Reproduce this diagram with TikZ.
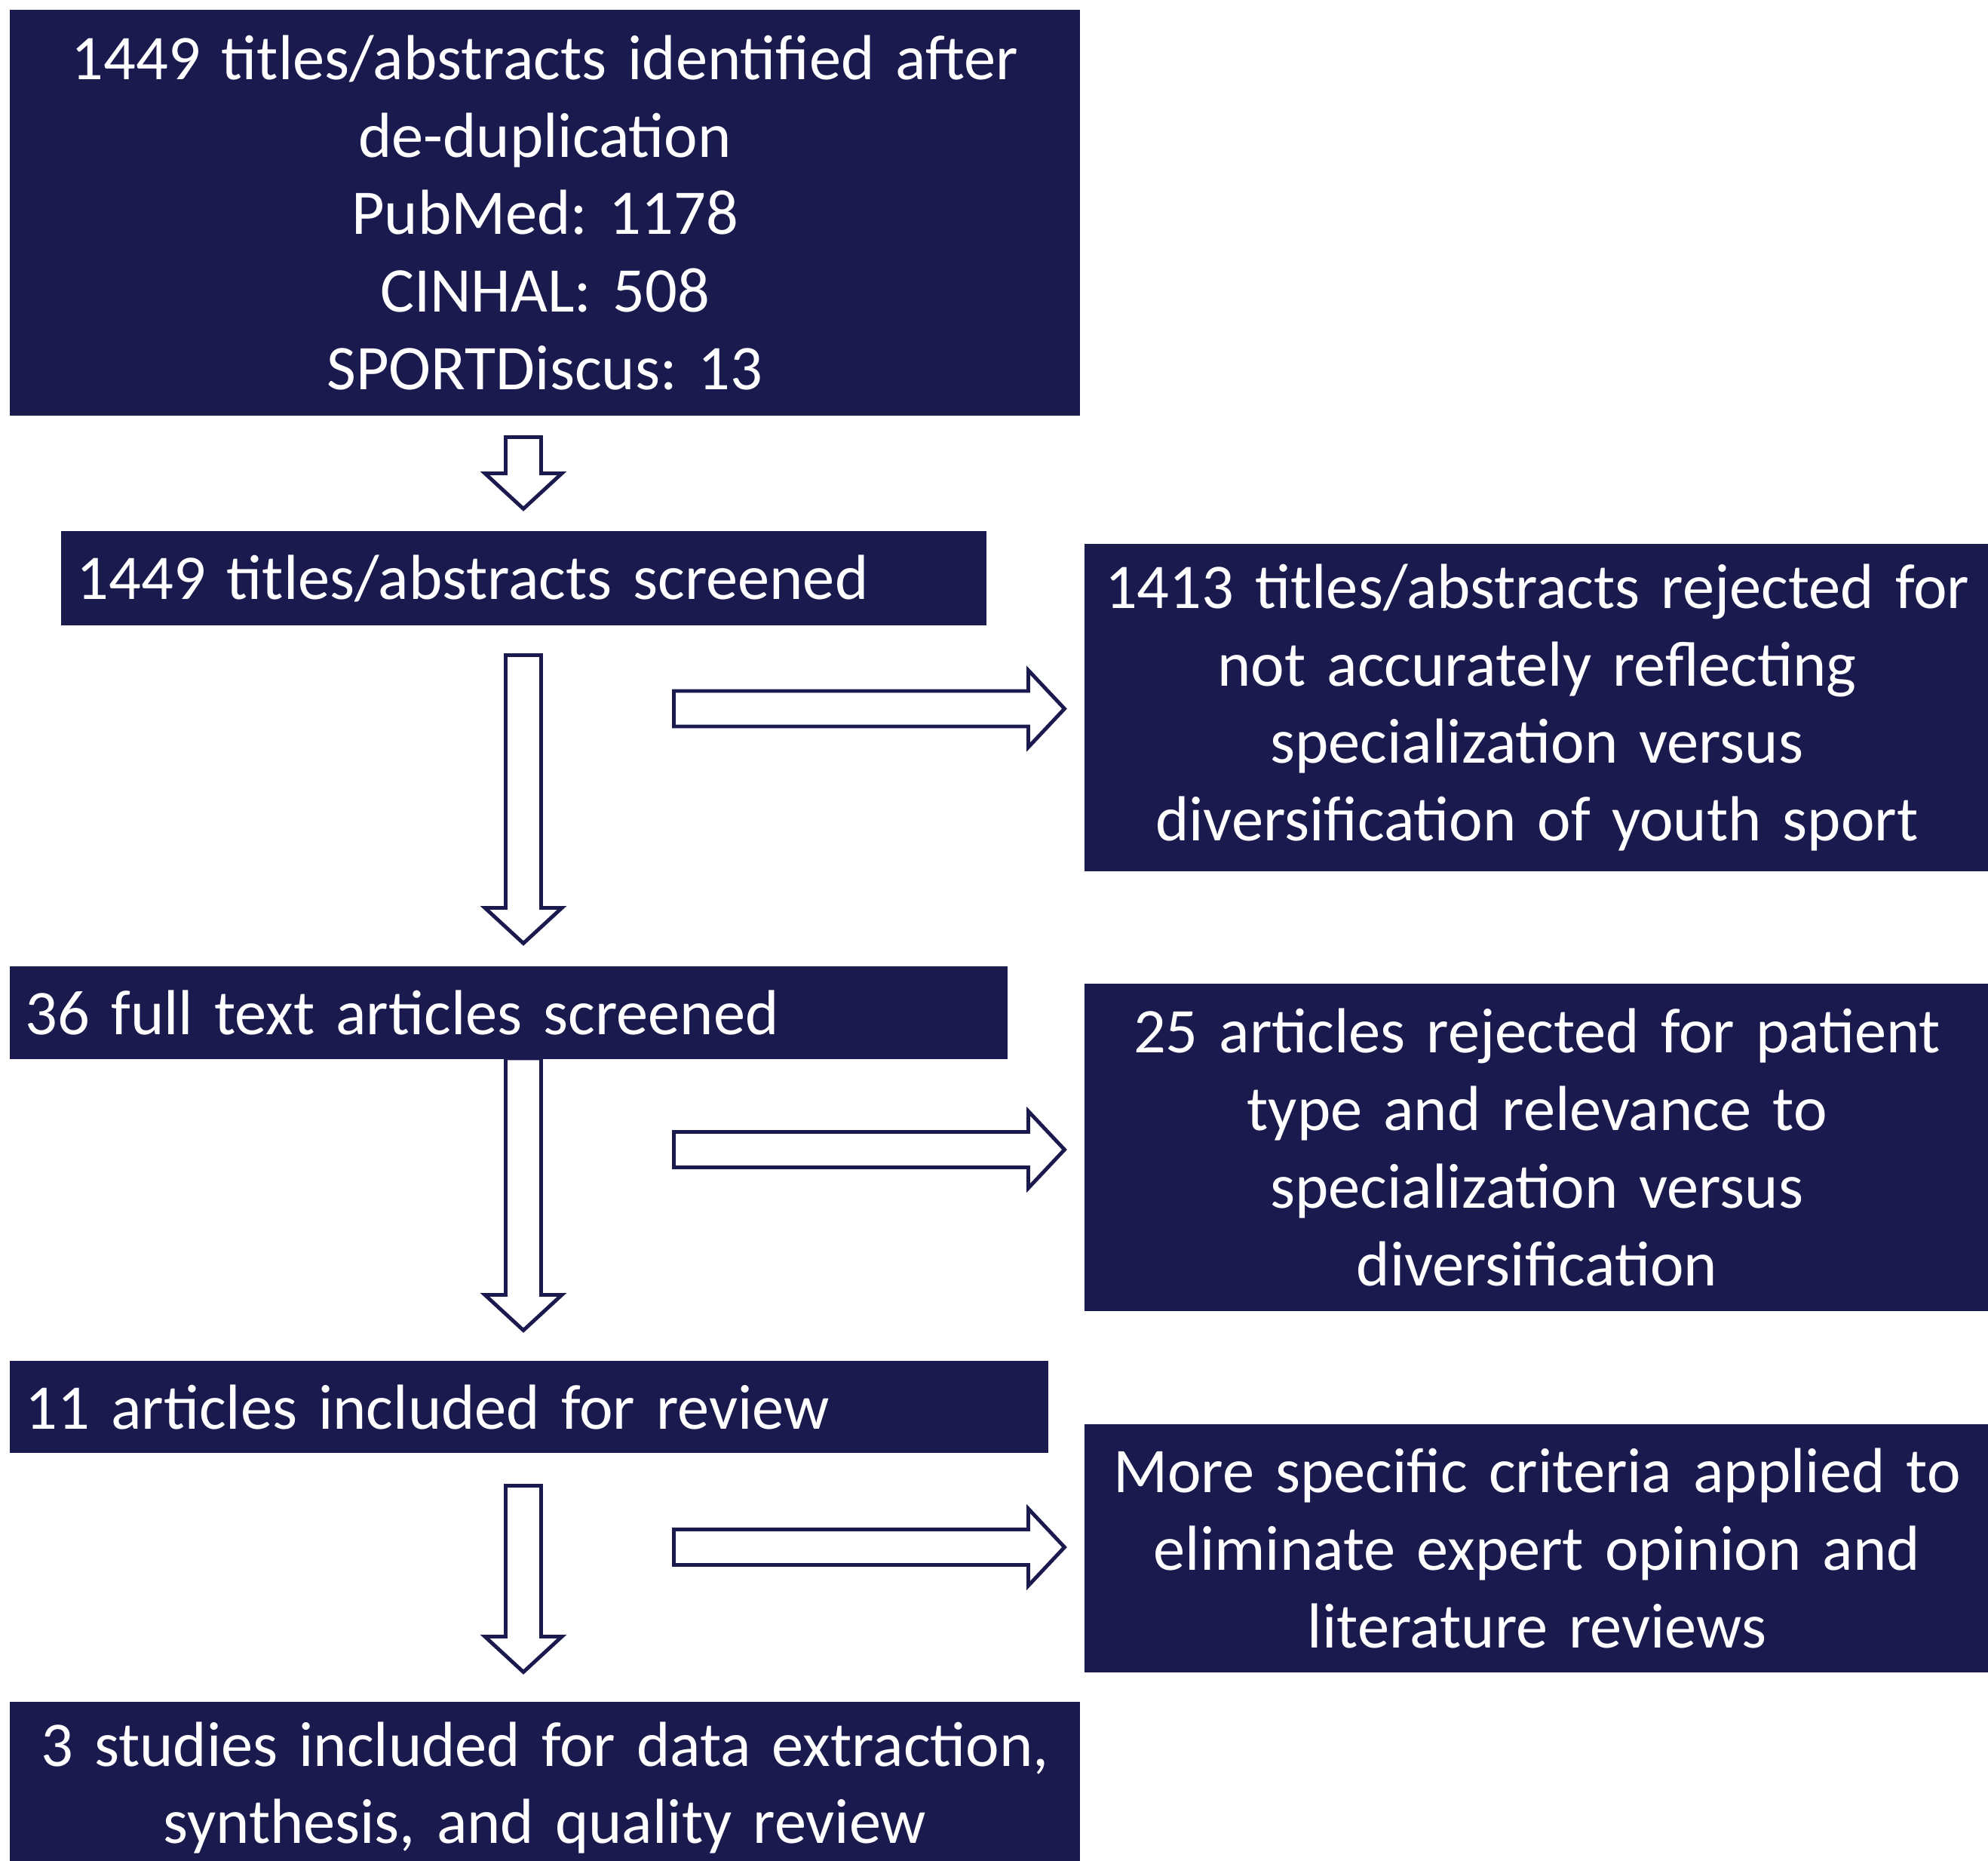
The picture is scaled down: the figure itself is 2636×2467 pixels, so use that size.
\documentclass[tikz,border=0pt]{standalone}
\usepackage{fontspec}
\setmainfont{Carlito}
\frenchspacing
\usetikzlibrary{calc}

\definecolor{navy}{RGB}{27,26,78}

\tikzset{
  navybox/.style={fill=navy, text=white, inner sep=0pt, font=\fontsize{24}{29.2}\selectfont},
  arrline/.style={draw=navy, fill=white, line width=1.4pt, line join=miter},
}

% block arrows: #1 tail coordinate, #2 tip coordinate
\newcommand{\downarr}[2]{%
  \draw[arrline] ($(#1)+(-23.5,0)$) -- ($(#2)+(-23.5,-47)$) -- ($(#2)+(-51,-47)$) -- (#2)
    -- ($(#2)+(51,-47)$) -- ($(#2)+(23.5,-47)$) -- ($(#1)+(23.5,0)$) -- cycle;}
\newcommand{\rightarr}[2]{%
  \draw[arrline] ($(#1)+(0,-23.5)$) -- ($(#2)+(-48,-23.5)$) -- ($(#2)+(-48,-51)$) -- (#2)
    -- ($(#2)+(-48,51)$) -- ($(#2)+(-48,23.5)$) -- ($(#1)+(0,23.5)$) -- cycle;}

\begin{document}
\begin{tikzpicture}[x=0.01cm, y=-0.01cm]
        \useasboundingbox (0,0) rectangle (2636,2467);

        % left column
        \node[navybox, minimum width=14.19cm, minimum height=5.38cm, text width=13.8cm, align=center] (ident) at (722.5,282)
            {1449 titles/abstracts identified after\\ de-duplication\\ PubMed: 1178\\ CINHAL: 508\\ SPORTDiscus: 13};
        \node[navybox, minimum width=12.27cm, minimum height=1.25cm, text width=11.85cm, align=left] (scr) at (694.5,766.5)
            {1449 titles/abstracts screened};
        \node[navybox, minimum width=13.23cm, minimum height=1.23cm, text width=12.81cm, align=left] (full) at (674.5,1342.5)
            {36 full text articles screened};
        \node[navybox, minimum width=13.77cm, minimum height=1.22cm, text width=13.35cm, align=left] (incl) at (701.5,1865)
            {11 articles included for review};
        \node[navybox, minimum width=14.19cm, minimum height=2.28cm, text width=13.8cm, align=center] (final) at (722.5,2370)
            {3 studies included for data extraction,\\ synthesis, and quality review};

        % right column
        \node[navybox, minimum width=12.0cm, minimum height=4.34cm, text width=11.8cm, align=center] (rejtitle) at (2038,938)
            {1413 titles/abstracts rejected for\\ not accurately reflecting\\ specialization versus\\ diversification of youth sport};
        \node[navybox, minimum width=12.0cm, minimum height=4.34cm, text width=11.8cm, align=center] (rejfull) at (2038,1521)
            {25 articles rejected for patient\\ type and relevance to\\ specialization versus\\ diversification};
        \node[navybox, minimum width=12.0cm, minimum height=3.29cm, text width=11.8cm, align=center] (crit) at (2038,2052.5)
            {More specific criteria applied to\\ eliminate expert opinion and\\ literature reviews};

        % down arrows
        \coordinate (a1s) at (694,579.5);  \coordinate (a1t) at (694,674.5);
        \coordinate (a2s) at (694,868.5);  \coordinate (a2t) at (694,1250.5);
        \coordinate (a3s) at (694,1403);   \coordinate (a3t) at (694,1763.5);
        \coordinate (a4s) at (694,1969.5); \coordinate (a4t) at (694,2216.5);
        \downarr{a1s}{a1t}
        \downarr{a2s}{a2t}
        \downarr{a3s}{a3t}
        \downarr{a4s}{a4t}

        % arrows to the rejected boxes
        \coordinate (r1s) at (893.5,939.5); \coordinate (r1t) at (1411.5,939.5);
        \coordinate (r2s) at (893.5,1524);  \coordinate (r2t) at (1411.5,1524);
        \coordinate (r3s) at (893.5,2051);  \coordinate (r3t) at (1411.5,2051);
        \rightarr{r1s}{r1t}
        \rightarr{r2s}{r2t}
        \rightarr{r3s}{r3t}

\end{tikzpicture}
\end{document}
